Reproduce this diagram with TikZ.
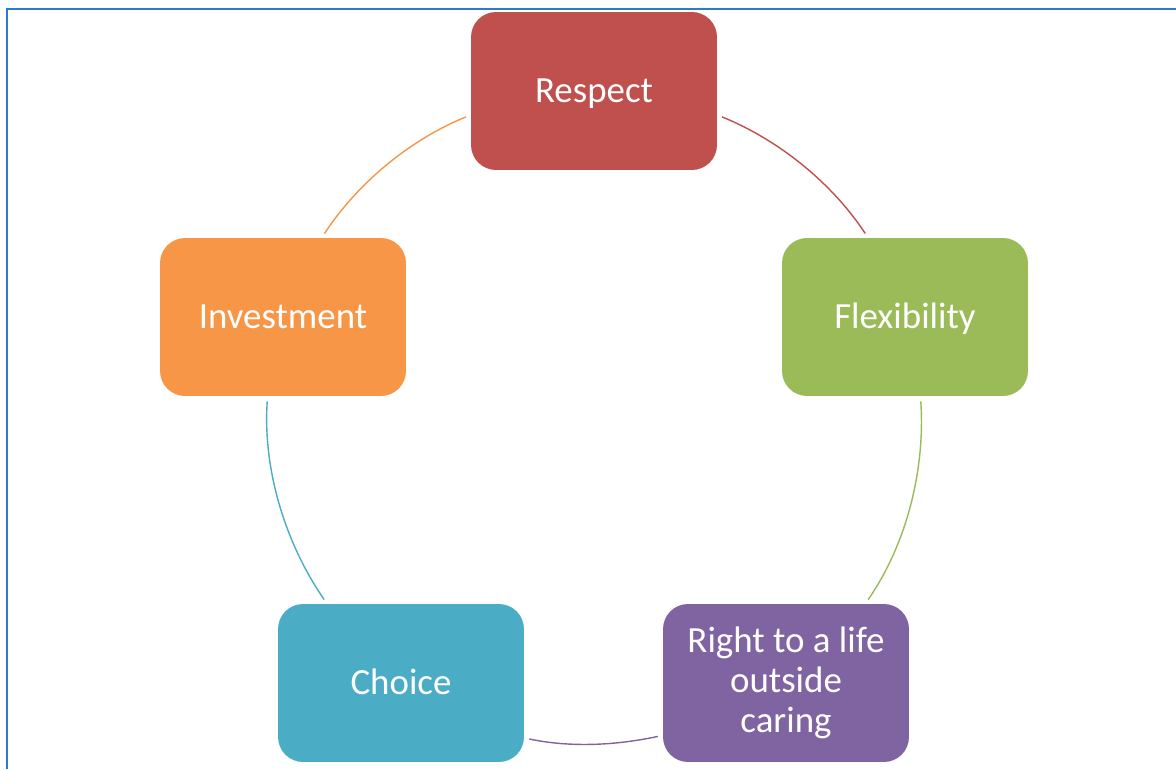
\documentclass[tikz,border=0pt]{standalone}
\usepackage{fontspec}
\setmainfont{Carlito}
\usepackage{tikz}

\definecolor{cRed}{HTML}{C0504D}
\definecolor{cGreen}{HTML}{9BBB59}
\definecolor{cPurple}{HTML}{8064A2}
\definecolor{cTeal}{HTML}{4BACC6}
\definecolor{cOrange}{HTML}{F79646}
\definecolor{cFrame}{HTML}{2B7BC8}

\tikzset{
    blk/.style={rounded corners=0.5cm, minimum width=4.92cm, minimum height=3.16cm,
        inner sep=0pt, text=white, align=center, font=\fontsize{21}{22.7}\selectfont},
    one/.style={blk, text height=17pt, text depth=4pt},
    link/.style={line width=0.8pt, looseness=0.87, shorten <=0.1cm, shorten >=0.1cm}
}

\begin{document}
\begin{tikzpicture}[x=0.02cm, y=0.02cm]
        \useasboundingbox (0,0) rectangle (1176,769);
        \draw[cFrame, line width=1.6pt] (7,0) -- (7,760) -- (1176,760);

        \node (res) at (594,678) [one, fill=cRed] {Respect};
        \node (flx) at (905,452) [one, fill=cGreen] {Flexibility};
        \node (rtl) at (786,86) [blk, fill=cPurple] {Right to a life\\outside\\caring};
        \node (cho) at (401,86) [one, fill=cTeal] {Choice};
        \node (inv) at (283,452) [one, fill=cOrange] {Investment};

        \draw[link, cRed] (res.349) to[out=-22.1, in=123.4] (flx.115.7);
        \draw[link, cGreen] (flx.281) to[out=-86.1, in=55.3] (rtl.45.7);
        \draw[link, cPurple] (rtl.203.9) to[out=-167.8, in=-12.1] (cho.336.1);
        \draw[link, cTeal] (cho.133.9) to[out=124.7, in=-93.9] (inv.259);
        \draw[link, cOrange] (inv.64.3) to[out=56.6, in=202.1] (res.191);
    \end{tikzpicture}
\end{document}
